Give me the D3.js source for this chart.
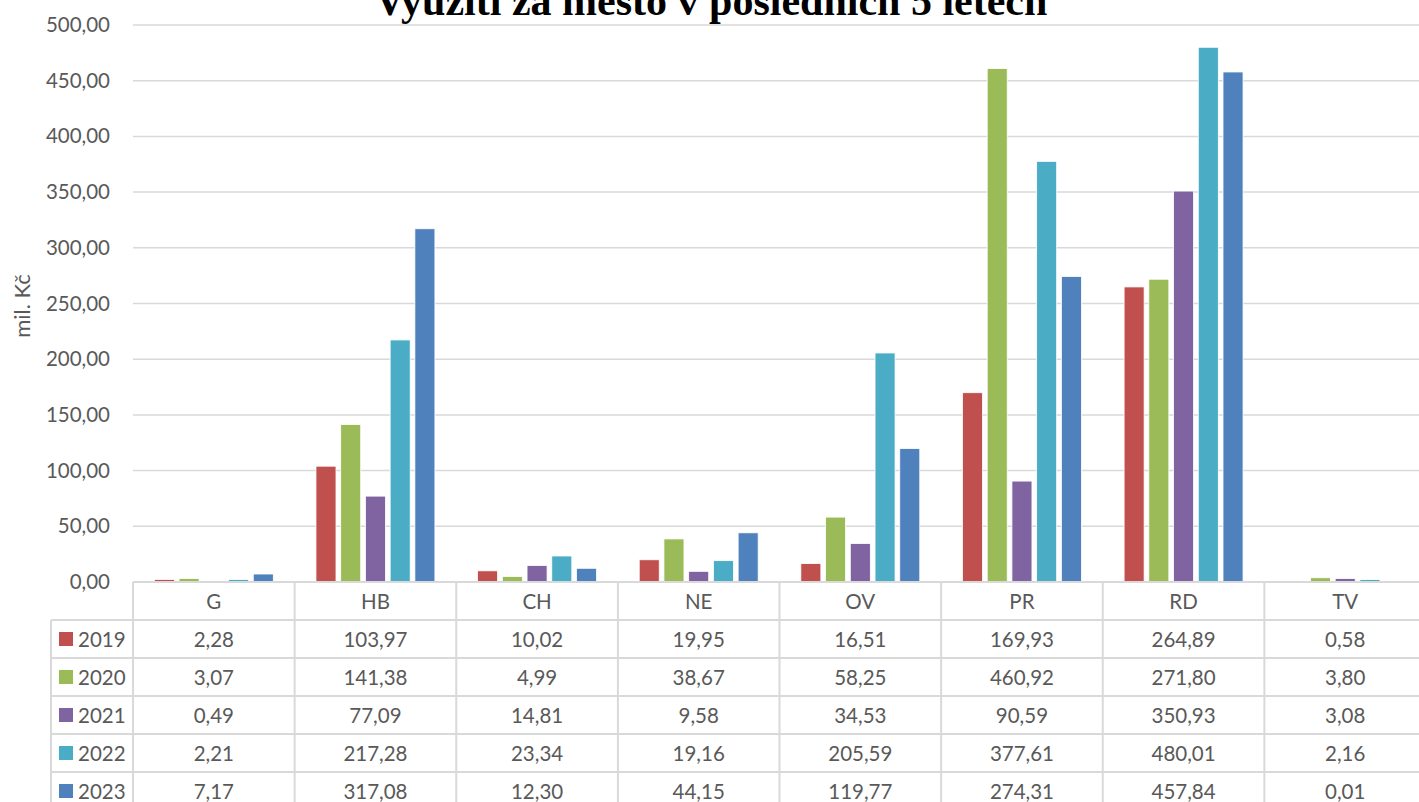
<!DOCTYPE html>
<html><head><meta charset="utf-8">
<script src="https://cdn.jsdelivr.net/npm/d3@7"></script>
<style>
html,body{margin:0;padding:0;background:#fff;overflow:hidden;}
</style></head>
<body>
<svg id="chart" width="1419" height="802"></svg>
<script>
const categories = ["G","HB","CH","NE","OV","PR","RD","TV"];
const years = ["2019","2020","2021","2022","2023"];
const v2019 = [2.28,103.97,10.02,19.95,16.51,169.93,264.89,0.58];
const v2020 = [3.07,141.38,4.99,38.67,58.25,460.92,271.80,3.80];
const v2021 = [0.49,77.09,14.81,9.58,34.53,90.59,350.93,3.08];
const v2022 = [2.21,217.28,23.34,19.16,205.59,377.61,480.01,2.16];
const v2023 = [7.17,317.08,12.30,44.15,119.77,274.31,457.84,0.01];
const seriesValues = [v2019,v2020,v2021,v2022,v2023];
const colors = ["#C0504D","#9BBB59","#8064A2","#4BACC6","#4F81BD"];
const yTicks = [0,50,100,150,200,250,300,350,400,450,500];
const title = "Využití za město v posledních 5 letech";
const yLabel = "mil. Kč";

const svg = d3.select("#chart");
const plotL = 133, plotR = 1426, plotT = 25, plotB = 582;
const rowH = 38, legendL = 51;
const font = "Lato, 'Open Sans', sans-serif";
const textCol = "#595959";
const gridCol = "#D9D9D9";

const x0 = d3.scaleBand().domain(categories).range([plotL, plotR]).padding(0);
const bw = x0.bandwidth();
const off = bw*0.132;
const x1 = d3.scaleBand().domain(years).range([off, bw-off]).paddingInner(0.19).paddingOuter(0);
const y = d3.scaleLinear().domain([0,500]).range([plotB, plotT]);

const fmt = v => d3.format(".2f")(v).replace(".", ",");

// gridlines
svg.append("g").selectAll("line").data(yTicks.filter(t=>t>0)).join("line")
  .attr("x1", plotL).attr("x2", 1419)
  .attr("y1", d=>y(d)).attr("y2", d=>y(d))
  .attr("stroke", gridCol).attr("stroke-width", 1.5);

// y axis labels
const yAxis = d3.axisLeft(y).tickValues(yTicks).tickFormat(fmt).tickSize(0).tickPadding(0);
const ya = svg.append("g").attr("transform", `translate(110,0)`).call(yAxis);
ya.select(".domain").remove();
ya.selectAll("text").attr("font-family", font).attr("font-size", 20.5).attr("fill", textCol);

// y label
svg.append("text").attr("transform", `translate(30,${306}) rotate(-90)`)
  .attr("text-anchor","middle").attr("font-family", font).attr("font-size", 22)
  .attr("fill", textCol).text(yLabel);

// bars
const groups = svg.append("g").selectAll("g").data(categories).join("g")
  .attr("transform", d=>`translate(${x0(d)},0)`);
groups.selectAll("rect").data((c,i)=>years.map((yr,j)=>({yr, v: seriesValues[j][i], j})))
  .join("rect")
  .attr("x", d=>x1(d.yr)).attr("width", x1.bandwidth())
  .attr("y", d=>y(d.v)).attr("height", d=>plotB - y(d.v))
  .attr("fill", d=>colors[d.j]).attr("stroke", "#fff").attr("stroke-width", 0.8);

// table
const tbl = svg.append("g");
const nRows = years.length;
const tableBottom = plotB + rowH*(nRows+1);
tbl.append("line").attr("x1", plotL).attr("x2", 1419).attr("y1", plotB).attr("y2", plotB)
  .attr("stroke", gridCol).attr("stroke-width", 2);
for (let r=1; r<=nRows; r++) {
  tbl.append("line").attr("x1", legendL).attr("x2", 1419)
    .attr("y1", plotB + r*rowH).attr("y2", plotB + r*rowH)
    .attr("stroke", gridCol).attr("stroke-width", 2);
}
tbl.append("line").attr("x1", legendL).attr("x2", legendL).attr("y1", plotB+rowH).attr("y2", tableBottom)
  .attr("stroke", gridCol).attr("stroke-width", 2);
categories.forEach(c=>{
  tbl.append("line").attr("x1", x0(c)).attr("x2", x0(c)).attr("y1", plotB).attr("y2", tableBottom)
    .attr("stroke", gridCol).attr("stroke-width", 2);
});
tbl.selectAll("text.hdr").data(categories).join("text").attr("class","hdr")
  .attr("x", d=>x0(d)+bw/2).attr("y", plotB + rowH/2 + 7.5)
  .attr("text-anchor","middle").attr("font-family", font).attr("font-size", 20.5)
  .attr("fill", textCol).text(d=>d);
years.forEach((yr,j)=>{
  const cy = plotB + (j+1)*rowH + rowH/2;
  tbl.append("rect").attr("x", 59).attr("y", cy-7).attr("width", 14).attr("height", 14).attr("fill", colors[j]);
  tbl.append("text").attr("x", 78).attr("y", cy+7.5).attr("font-family", font).attr("font-size", 20.5)
    .attr("fill", textCol).text(yr);
  tbl.selectAll(null).data(categories).join("text")
    .attr("x", d=>x0(d)+bw/2).attr("y", cy+7.5)
    .attr("text-anchor","middle").attr("font-family", font).attr("font-size", 20.5)
    .attr("fill", textCol).text((d,i)=>fmt(seriesValues[j][i]));
});

// title
svg.append("text").attr("x", 711).attr("y", 15).attr("text-anchor","middle")
  .attr("font-family", "'Liberation Serif', 'Times New Roman', serif").attr("font-weight","bold")
  .attr("font-size", 42).attr("fill", "#000").text(title);
</script>
</body></html>
